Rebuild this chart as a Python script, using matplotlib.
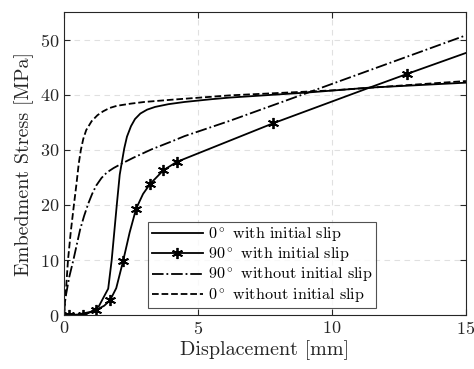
import matplotlib
matplotlib.use("Agg")
import matplotlib.pyplot as plt

plt.rcParams["font.family"] = ["cmr10", "DejaVu Serif"]
plt.rcParams["mathtext.fontset"] = "cm"
plt.rcParams["axes.formatter.use_mathtext"] = True

# 0 deg, with initial slip
x_0_slip = [0.0, 0.5, 1.0, 1.3, 1.65, 1.78, 1.97, 2.08, 2.15, 2.25, 2.35, 2.5, 2.65, 2.85,
            3.1, 3.4, 3.9, 4.5, 5.5, 6.2, 9.05, 11.4, 15.0]
y_0_slip = [0.0, 0.1, 0.6, 1.6, 4.8, 10.0, 20.0, 25.5, 27.5, 30.3, 32.4, 34.3, 35.6, 36.6,
            37.3, 37.8, 38.3, 38.7, 39.2, 39.5, 40.4, 41.3, 42.2]

# 90 deg, with initial slip (markers on the measured points)
x_90_slip = [0.0, 0.2, 0.7, 1.19, 1.5, 1.72, 1.95, 2.21, 2.45, 2.69, 2.95, 3.21, 3.71,
             4.2, 6.2, 7.79, 11.4, 12.81, 15.0]
y_90_slip = [0.0, 0.0, 0.0, 0.9, 1.7, 2.7, 4.9, 9.9, 15.0, 19.3, 22.0, 23.8, 26.3,
             27.8, 31.7, 34.8, 41.3, 43.8, 47.6]
star_idx = [1, 2, 3, 5, 7, 9, 11, 12, 13, 15, 17]

# 90 deg, without initial slip
x_90_free = [0.0, 0.05, 0.2, 0.35, 0.6, 0.75, 0.91, 1.05, 1.2, 1.4, 1.6, 1.85, 2.15,
             2.6, 3.27, 4.0, 4.5, 6.2, 9.05, 15.0]
y_90_free = [0.0, 3.0, 7.0, 10.0, 15.5, 18.0, 20.3, 22.0, 23.5, 24.9, 25.9, 26.7, 27.5,
             28.6, 30.1, 31.5, 32.5, 35.3, 40.3, 50.8]

# 0 deg, without initial slip
x_0_free = [0.0, 0.08, 0.15, 0.25, 0.37, 0.47, 0.55, 0.63, 0.72, 0.83, 1.03, 1.25, 1.46,
            1.7, 1.97, 2.5, 3.0, 4.0, 6.2, 10.0, 15.0]
y_0_free = [0.0, 5.0, 10.0, 15.0, 20.0, 24.0, 27.5, 30.0, 32.0, 33.6, 35.2, 36.3, 37.0,
            37.6, 38.0, 38.4, 38.7, 39.1, 39.9, 40.8, 42.5]

fig = plt.figure(figsize=(4.74, 3.69), dpi=100)
ax = fig.add_axes([0.135, 0.146, 0.848, 0.821])

lw = 1.3
ax.plot(x_0_slip, y_0_slip, "-", color="k", lw=lw, label=r"$0^\circ$ with initial slip")
ax.plot(x_90_slip, y_90_slip, "-", color="k", lw=lw, marker=(6, 2, 0), markersize=8,
        markeredgewidth=1.3, markevery=star_idx, label=r"$90^\circ$ with initial slip")
ax.plot(x_90_free, y_90_free, "-.", color="k", lw=lw, label=r"$90^\circ$ without initial slip")
ax.plot(x_0_free, y_0_free, "--", color="k", lw=lw, label=r"$0^\circ$ without initial slip")

ax.set_xlim(0, 15)
ax.set_ylim(0, 55)
ax.set_xticks([0, 5, 10, 15])
ax.set_yticks([0, 10, 20, 30, 40, 50])
ax.grid(True, ls=(0, (5, 4)), color="#e0e0e0", lw=0.8)
ax.tick_params(direction="in", top=True, right=True, length=4, labelsize=13,
               colors="#262626", labelcolor="#262626")
for sp in ax.spines.values():
    sp.set_color("#262626")
    sp.set_linewidth(0.8)

ax.set_xlabel("Displacement [mm]", fontsize=14.5, color="#262626", labelpad=2)
ax.set_ylabel("Embedment Stress [MPa]", fontsize=14.5, color="#262626", labelpad=4)

leg = ax.legend(loc="lower left", bbox_to_anchor=(0.21, 0.024), fontsize=11.6,
                frameon=True, fancybox=False, edgecolor="#262626", borderpad=0.2,
                labelspacing=0.1, handlelength=3.2, handletextpad=0.3,
                borderaxespad=0)
leg.get_frame().set_linewidth(0.8)

fig.savefig("out.png", dpi=100)
